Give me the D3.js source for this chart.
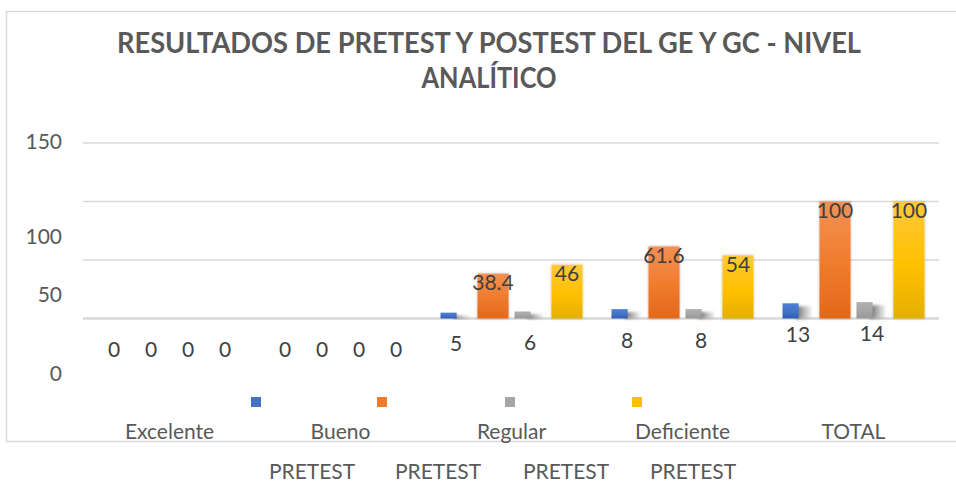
<!DOCTYPE html>
<html>
<head>
<meta charset="utf-8">
<script src="https://cdn.jsdelivr.net/npm/d3@7"></script>
<style>
  body { margin: 0; background: #fff; }
  text { font-family: Lato, "Liberation Sans", sans-serif; }
</style>
</head>
<body>
<div id="chart"></div>
<script>
// data
const categories = ["Excelente", "Bueno", "Regular", "Deficiente", "TOTAL"]
const seriesNames = ["PRETEST", "PRETEST", "PRETEST", "PRETEST"]
const serie1 = [0, 0, 5, 8, 13]
const serie2 = [0, 0, 38.4, 61.6, 100]
const serie3 = [0, 0, 6, 8, 14]
const serie4 = [0, 0, 46, 54, 100]
const yTicks = [0, 50, 100, 150]
const titleLines = ["RESULTADOS DE PRETEST Y POSTEST DEL GE Y GC - NIVEL", "ANALÍTICO"]

// layout
const width = 956
const height = 483
const plot = { left: 84, right: 939, top: 143, bottom: 318.5 }
const tickLabelDy = [61.5, 41, 42, 5]   // tick labels sit oddly below their gridlines
const colors = [
  ["#4d80d8", "#4472c4", "#2f5eb2"],
  ["#f29154", "#f07b2c", "#e2681a"],
  ["#b0b0b0", "#a5a5a5", "#979797"],
  ["#ffc83a", "#ffc000", "#e4af00"]
]
const swatchColors = ["#4472c4", "#f07b2c", "#a5a5a5", "#ffc000"]
const textColor = "#595959"
const labelColor = "#404040"
const gridColor = "#d9d9d9"

const allSeries = [serie1, serie2, serie3, serie4]
const data = categories.map((c, i) => ({
  cat: c,
  values: allSeries.map((s, j) => ({ key: j, value: s[i] }))
}))

const svg = d3.select("div#chart").append("svg").attr("width", width).attr("height", height)
const defs = svg.append("defs")

colors.forEach((c, i) => {
  const g = defs.append("linearGradient").attr("id", `grad${i}`)
    .attr("x1", 0).attr("y1", 0).attr("x2", 0).attr("y2", 1)
  g.append("stop").attr("offset", "0%").attr("stop-color", c[0])
  g.append("stop").attr("offset", "55%").attr("stop-color", c[1])
  g.append("stop").attr("offset", "100%").attr("stop-color", c[2])
})
const sg = defs.append("linearGradient").attr("id", "shadowGrad")
  .attr("x1", 0).attr("y1", 0).attr("x2", 1).attr("y2", 0)
sg.append("stop").attr("offset", "0%").attr("stop-color", "#404040").attr("stop-opacity", 0.85)
sg.append("stop").attr("offset", "100%").attr("stop-color", "#808080").attr("stop-opacity", 0.15)

const blur = defs.append("filter").attr("id", "blur").attr("x", "-50%").attr("y", "-50%").attr("width", "200%").attr("height", "200%")
blur.append("feGaussianBlur").attr("stdDeviation", 1.6)

const soft = defs.append("filter").attr("id", "soft").attr("x", "-30%").attr("y", "-10%").attr("width", "160%").attr("height", "120%")
soft.append("feDropShadow").attr("dx", 0).attr("dy", 0).attr("stdDeviation", 1.8)
  .attr("flood-color", "#000").attr("flood-opacity", 0.25)

// frame
svg.append("rect")
  .attr("x", 6.5).attr("y", 11.5).attr("width", 970).attr("height", 430)
  .attr("fill", "none").attr("stroke", gridColor).attr("stroke-width", 1.5)

// title
svg.append("text").attr("x", 489).attr("y", 53).attr("text-anchor", "middle")
  .attr("font-size", 28).attr("font-weight", "bold").attr("fill", textColor)
  .attr("textLength", 744).attr("lengthAdjust", "spacingAndGlyphs")
  .text(titleLines[0])
svg.append("text").attr("x", 489).attr("y", 88).attr("text-anchor", "middle")
  .attr("font-size", 28).attr("font-weight", "bold").attr("fill", textColor)
  .attr("textLength", 135).attr("lengthAdjust", "spacingAndGlyphs")
  .text(titleLines[1])

// scales
const x0 = d3.scaleBand().domain(categories).range([plot.left, plot.right])
const x1 = d3.scaleBand().domain(d3.range(4)).range([14.5, x0.bandwidth() - 14.5]).paddingInner(0.16)
const y = d3.scaleLinear().domain([0, 150]).range([plot.bottom, plot.top])

// grid
const grid = svg.append("g").attr("class", "grid")
grid.selectAll("line").data(yTicks).join("line")
  .attr("x1", plot.left - 1).attr("x2", plot.right)
  .attr("y1", d => y(d)).attr("y2", d => y(d))
  .attr("stroke", gridColor).attr("stroke-width", d => d === 0 ? 2.5 : 1.5)

// y axis labels
const yAxisGroup = svg.append("g").attr("class", "yAxisGroup").attr("transform", "translate(62, 0)")
const yAxis = d3.axisLeft(y).tickValues(yTicks).tickSize(0).tickPadding(0)
yAxisGroup.call(yAxis)
yAxisGroup.select(".domain").remove()
yAxisGroup.selectAll(".tick text")
  .attr("dy", (d, i) => tickLabelDy[i])
  .attr("font-size", 21).attr("font-family", "Lato, 'Liberation Sans', sans-serif")
  .attr("fill", textColor)

// bars
const groups = svg.append("g").attr("class", "elementGroup")
  .selectAll("g").data(data).join("g")
  .attr("transform", d => `translate(${x0(d.cat)}, 0)`)

groups.each(function(d) {
  const g = d3.select(this)
  d.values.forEach(v => {
    const bx = x1(v.key)
    const bw = x1.bandwidth()
    const h = y(0) - y(v.value)
    if (v.value > 0) {
      if (v.key === 0 || v.key === 2) {
        // flat bars with a dark shadow behind
        g.append("rect")
          .attr("x", bx + bw * 0.42).attr("y", y(v.value) + 3)
          .attr("width", bw * 0.5).attr("height", Math.max(h - 3, 1))
          .attr("fill", "url(#shadowGrad)").attr("filter", "url(#blur)")
        g.append("rect")
          .attr("x", bx).attr("y", y(v.value))
          .attr("width", bw * 0.52).attr("height", h)
          .attr("fill", `url(#grad${v.key})`)
      } else {
        g.append("rect")
          .attr("x", bx).attr("y", y(v.value))
          .attr("width", bw).attr("height", h)
          .attr("fill", `url(#grad${v.key})`).attr("filter", "url(#soft)")
      }
    }
    // labels
    const small = v.key === 0 || v.key === 2 || v.value === 0
    g.append("text")
      .attr("x", bx + bw / 2)
      .attr("y", small ? y(v.value) + 38.5 : y(v.value) + 16.5)
      .attr("text-anchor", "middle")
      .attr("font-size", 21).attr("fill", labelColor)
      .text(v.value)
  })
})

// category labels
svg.append("g").selectAll("text").data(categories).join("text")
  .attr("x", d => x0(d) + x0.bandwidth() / 2)
  .attr("y", 439)
  .attr("text-anchor", "middle")
  .attr("font-size", 21).attr("fill", textColor)
  .text(d => d)

// legend
const legendX = [312, 438, 566, 693]
const legend = svg.append("g").attr("class", "legend")
legend.selectAll("rect").data(seriesNames).join("rect")
  .attr("x", (d, i) => legendX[i] - 61).attr("y", 397)
  .attr("width", 10).attr("height", 10)
  .attr("fill", (d, i) => swatchColors[i])
legend.selectAll("text").data(seriesNames).join("text")
  .attr("x", (d, i) => legendX[i]).attr("y", 479)
  .attr("text-anchor", "middle")
  .attr("font-size", 21).attr("fill", textColor)
  .text(d => d)
</script>
</body>
</html>
